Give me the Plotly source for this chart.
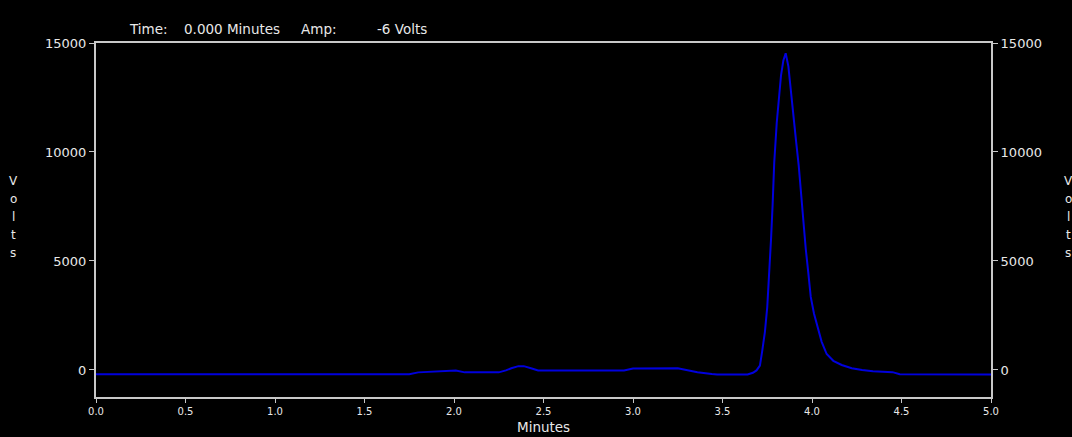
import plotly.graph_objects as go

# Chromatogram trace (minutes, volts)
time_min = [0.00, 1.75, 1.80, 1.88, 1.95, 2.01, 2.06, 2.25, 2.29, 2.32, 2.36, 2.39, 2.43, 2.47,
            2.95, 3.00, 3.25, 3.30, 3.36, 3.44, 3.47, 3.64, 3.67, 3.69,
            3.709, 3.722, 3.737, 3.750, 3.762, 3.771, 3.780, 3.789, 3.803, 3.816, 3.827, 3.840,
            3.853, 3.868, 3.881, 3.896, 3.911, 3.926, 3.939, 3.951, 3.965, 3.979, 3.993,
            4.011, 4.030, 4.054, 4.082, 4.119, 4.166, 4.222, 4.28, 4.34, 4.45, 4.49, 5.00]
volts = [-200, -200, -110, -80, -20, -20, -110, -110, -20, 80, 175, 175, 80, -20,
         -20, 70, 80, -10, -100, -190, -210, -210, -130, -20,
         200, 880, 1750, 2890, 4415, 5980, 7580, 9510, 11340, 12560, 13520, 14200,
         14530, 13930, 12790, 11570, 10500, 9360, 7990, 6620, 5560, 4490, 3350,
         2590, 1980, 1290, 730, 420, 230, 80, 0, -60, -100, -200, -210]

x_ticks = [0.0, 0.5, 1.0, 1.5, 2.0, 2.5, 3.0, 3.5, 4.0, 4.5, 5.0]
x_tick_labels = ["0.0", "0.5", "1.0", "1.5", "2.0", "2.5", "3.0", "3.5", "4.0", "4.5", "5.0"]
y_ticks = [0, 5000, 10000, 15000]
y_tick_labels = ["0", "5000", "10000", "15000"]

header_texts = ["Time:", "0.000 Minutes", "Amp:", "-6 Volts"]
x_title = "Minutes"
y_title = "Volts"

x_range = [0, 5]
y_range = [-1240, 15000]

AXIS = "#c8c8c8"
TEXT = "#e8e8e8"
FAM = "DejaVu Sans"
HEAD_FONT = dict(family=FAM, size=13.5, color=TEXT)
XTICK_FONT = dict(family=FAM, size=10, color=TEXT)
YTICK_FONT = dict(family=FAM, size=13, color=TEXT)
LETTER_FONT = dict(family=FAM, size=12, color=TEXT)

fig = go.Figure()
fig.add_trace(go.Scatter(x=time_min, y=volts, mode="lines",
                         line=dict(color="#0000dd", width=2), hoverinfo="skip",
                         showlegend=False))
fig.add_trace(go.Scatter(x=time_min[:1], y=volts[:1], mode="markers", yaxis="y2",
                         marker=dict(opacity=0), hoverinfo="skip", showlegend=False))

L, R, T, B = 96, 81, 43, 40
W, H = 1072, 437
pw, ph = W - L - R, H - T - B


def px(xp):
    return (xp - L) / pw


def py(yp):
    return (H - B - yp) / ph


annotations = []
for txt, xp in zip(header_texts, [127, 182, 299, 375]):
    annotations.append(dict(text=txt, x=px(xp), y=py(29), xref="paper", yref="paper",
                            xanchor="left", yanchor="middle", showarrow=False, font=HEAD_FONT))
annotations.append(dict(text=x_title, x=0.5, y=py(427), xref="paper", yref="paper",
                        xanchor="center", yanchor="middle", showarrow=False, font=HEAD_FONT))
for i, ch in enumerate(y_title):
    yp = 181 + i * 18
    annotations.append(dict(text=ch, x=px(13), y=py(yp), xref="paper", yref="paper",
                            xanchor="center", yanchor="middle", showarrow=False, font=LETTER_FONT))
    annotations.append(dict(text=ch, x=px(1068), y=py(yp), xref="paper", yref="paper",
                            xanchor="center", yanchor="middle", showarrow=False, font=LETTER_FONT))

common_y = dict(range=y_range, tickvals=y_ticks, ticktext=y_tick_labels,
                showgrid=False, zeroline=False, showline=True, linecolor=AXIS, linewidth=2,
                ticks="outside", ticklen=5, tickcolor=AXIS, tickwidth=1, tickfont=YTICK_FONT)

fig.update_layout(
    width=W, height=H,
    margin=dict(l=L, r=R, t=T, b=B),
    paper_bgcolor="black", plot_bgcolor="black",
    font=dict(family=FAM, size=11, color=TEXT),
    showlegend=False,
    annotations=annotations,
    xaxis=dict(range=x_range, tickvals=x_ticks, ticktext=x_tick_labels,
               showgrid=False, zeroline=False, showline=True, linecolor=AXIS, linewidth=2,
               mirror=True, ticks="outside", ticklen=4, tickcolor=AXIS, tickwidth=1,
               tickfont=XTICK_FONT),
    yaxis=dict(**common_y),
    yaxis2=dict(**common_y, overlaying="y", side="right"),
)

fig.write_html("out.html")
